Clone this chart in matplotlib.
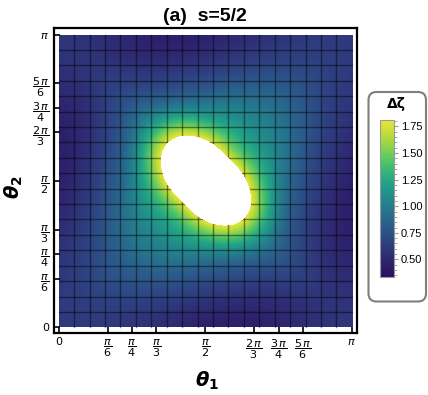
import numpy as np
import matplotlib
matplotlib.use("Agg")
import matplotlib.pyplot as plt
from matplotlib.colors import ListedColormap, LinearSegmentedColormap
from matplotlib.patches import FancyBboxPatch, Rectangle
from matplotlib.ticker import MultipleLocator

# delta zeta on a 13x13 grid, theta = k*pi/12
# rows: theta2 from 0 to pi, columns: theta1 from 0 to pi
dzeta = np.array([
    [0.60, 0.61, 0.60, 0.57, 0.53, 0.48, 0.44, 0.42, 0.43, 0.47, 0.53, 0.58, 0.60],
    [0.61, 0.65, 0.66, 0.65, 0.63, 0.59, 0.55, 0.52, 0.51, 0.52, 0.56, 0.60, 0.58],
    [0.60, 0.66, 0.76, 0.79, 0.80, 0.78, 0.74, 0.70, 0.66, 0.65, 0.68, 0.56, 0.53],
    [0.57, 0.65, 0.79, 0.92, 1.00, 1.02, 0.97, 0.93, 0.88, 0.86, 0.65, 0.52, 0.47],
    [0.53, 0.63, 0.80, 1.00, 1.08, 1.25, 1.50, 1.78, 1.42, 0.88, 0.66, 0.51, 0.43],
    [0.48, 0.59, 0.78, 1.02, 1.25, 1.52, 2.50, 2.60, 1.78, 0.93, 0.70, 0.52, 0.42],
    [0.44, 0.55, 0.74, 0.97, 1.50, 2.50, 3.10, 2.50, 1.50, 0.97, 0.74, 0.55, 0.44],
    [0.42, 0.52, 0.70, 0.93, 1.78, 2.60, 2.50, 1.52, 1.25, 1.02, 0.78, 0.59, 0.48],
    [0.43, 0.51, 0.66, 0.88, 1.42, 1.78, 1.50, 1.25, 1.08, 1.00, 0.80, 0.63, 0.53],
    [0.47, 0.52, 0.65, 0.86, 0.88, 0.93, 0.97, 1.02, 1.00, 0.92, 0.79, 0.65, 0.57],
    [0.53, 0.56, 0.68, 0.65, 0.66, 0.70, 0.74, 0.78, 0.80, 0.79, 0.76, 0.66, 0.60],
    [0.58, 0.60, 0.56, 0.52, 0.51, 0.52, 0.55, 0.59, 0.63, 0.65, 0.66, 0.65, 0.61],
    [0.60, 0.58, 0.53, 0.47, 0.43, 0.42, 0.44, 0.48, 0.53, 0.57, 0.60, 0.61, 0.60],
])

tick_vals = [0, np.pi / 6, np.pi / 4, np.pi / 3, np.pi / 2, 2 * np.pi / 3, 3 * np.pi / 4, 5 * np.pi / 6, np.pi]
tick_labels = ["0", r"$\dfrac{\pi}{6}$", r"$\dfrac{\pi}{4}$", r"$\dfrac{\pi}{3}$", r"$\dfrac{\pi}{2}$",
               r"$\dfrac{2\,\pi}{3}$", r"$\dfrac{3\,\pi}{4}$", r"$\dfrac{5\,\pi}{6}$", r"$\pi$"]
cbar_ticks = [0.50, 0.75, 1.00, 1.25, 1.50, 1.75]
vmin, vmax = 0.34, 1.81
n_mesh = 19

# viridis-like scale, bluer at the low end as in the picture
cmap = LinearSegmentedColormap.from_list("vir", [
    (0.00, "#2b1160"), (0.10, "#2e256f"), (0.20, "#2e3d7e"), (0.30, "#2c5689"),
    (0.40, "#27708d"), (0.50, "#218a8c"), (0.60, "#22a386"), (0.70, "#3fbc72"),
    (0.80, "#79cf55"), (0.90, "#b8db3a"), (1.00, "#e8e53a")])
cmap.set_over("white")

fig = plt.figure(figsize=(4.28, 3.95), dpi=100)
ax = fig.add_axes([0.125, 0.157, 0.709, 0.771])

step = np.pi / (dzeta.shape[0] - 1)
ext = [-step / 2, np.pi + step / 2, -step / 2, np.pi + step / 2]

im = ax.imshow(dzeta, origin="lower", extent=ext, cmap=cmap, vmin=vmin, vmax=vmax,
               interpolation="bicubic", interpolation_stage="data", aspect="auto", zorder=1)
im.set_clip_path(Rectangle((0, 0), np.pi, np.pi, transform=ax.transData))

# mesh lines
for k in range(1, n_mesh):
    t = k * np.pi / n_mesh
    ax.plot([t, t], [0, np.pi], color="k", lw=1.0, alpha=0.45, zorder=2)
    ax.plot([0, np.pi], [t, t], color="k", lw=1.0, alpha=0.45, zorder=2)

# white region drawn over the mesh
mask_cmap = ListedColormap([(0, 0, 0, 0)])
mask_cmap.set_over("white")
im2 = ax.imshow(dzeta, origin="lower", extent=ext, cmap=mask_cmap, vmin=vmin, vmax=vmax,
                interpolation="bicubic", interpolation_stage="data", aspect="auto", zorder=3)
im2.set_clip_path(Rectangle((0, 0), np.pi, np.pi, transform=ax.transData))

ax.set_xlim(-0.056, np.pi + 0.054)
ax.set_ylim(-0.061, np.pi + 0.067)
ax.set_xticks(tick_vals)
ax.set_xticklabels(tick_labels)
ax.set_yticks(tick_vals)
ax.set_yticklabels(tick_labels)
ax.tick_params(direction="in", length=4, width=1.2, labelsize=8, pad=3)
for s in ax.spines.values():
    s.set_linewidth(1.6)

fig.text(205 / 428, 1 - 16.5 / 395, "(a)  s=5/2", ha="center", va="center",
         fontsize=14, fontweight="bold", family="Liberation Sans")
fig.text(207 / 428, 1 - 381 / 395, r"θ$_\mathbf{1}$", ha="center", va="center",
         fontsize=14, fontweight="bold", fontstyle="italic")
fig.text(14 / 428, 1 - 187 / 395, r"θ$_\mathbf{2}$", ha="center", va="center", rotation=90,
         fontsize=14, fontweight="bold", fontstyle="italic")

# legend box with colour bar
frame = FancyBboxPatch((3.685, 0.935), 0.575, 2.095, boxstyle="round,pad=0,rounding_size=0.08",
                       transform=fig.dpi_scale_trans, fc="white", ec="#7f7f7f", lw=1.5, zorder=-1)
fig.add_artist(frame)
fig.text(396 / 428, 1 - 104 / 395, "Δζ", ha="center", va="center", fontsize=10, fontweight="bold")

cax = fig.add_axes([380 / 428, (395 - 276.5) / 395, 14 / 428, 156.5 / 395])
cb = fig.colorbar(im, cax=cax, ticks=cbar_ticks, format="%.2f")
cb.outline.set_edgecolor("#999999")
cb.outline.set_linewidth(0.8)
cax.yaxis.set_minor_locator(MultipleLocator(0.05))
cax.tick_params(which="major", length=3, width=0.8, color="#999999", labelsize=8, pad=2)
for lab in cax.get_yticklabels():
    lab.set_family("Liberation Sans")
cax.tick_params(which="minor", length=2, width=0.6, color="#999999")

fig.savefig("out.png", dpi=100)
